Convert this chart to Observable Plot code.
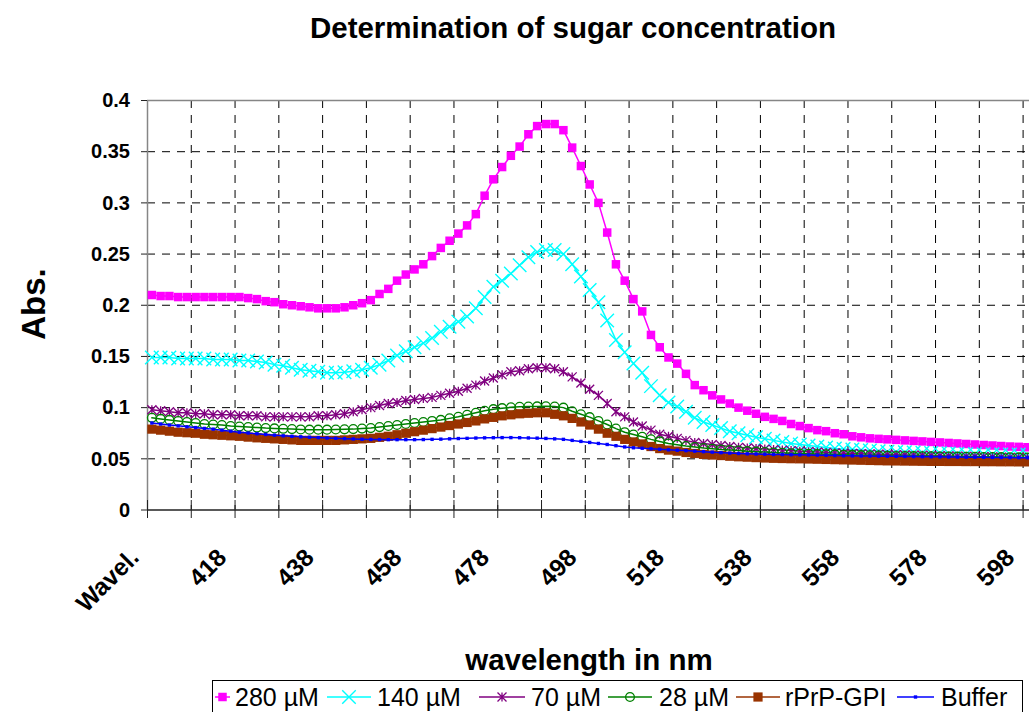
<!DOCTYPE html>
<html><head><meta charset="utf-8">
<script src="https://cdn.jsdelivr.net/npm/d3@7"></script>
<script src="https://cdn.jsdelivr.net/npm/@observablehq/plot@0.6"></script>
<style>
html,body{margin:0;padding:0;background:#fff;}
#chart{position:relative;width:1029px;height:712px;overflow:hidden;}
#chart svg{font-family:"Liberation Sans",Arial,sans-serif;display:block;}
</style></head><body><div id="chart"></div>
<script>
// Categories: index 0 is labelled "Wavel.", then 400..598 nm in 2 nm steps
const wavelengths = d3.range(398, 600, 2);
const xTickIndex = [0, 10, 20, 30, 40, 50, 60, 70, 80, 90, 100];
const xTickLabels = ["Wavel.", "418", "438", "458", "478", "498", "518", "538", "558", "578", "598"];
const yTicks = [0, 0.05, 0.1, 0.15, 0.2, 0.25, 0.3, 0.35, 0.4];
const yTickLabels = ["0", "0.05", "0.1", "0.15", "0.2", "0.25", "0.3", "0.35", "0.4"];

const seriesNames = ["280 µM", "140 µM", "70 µM", "28 µM", "rPrP-GPI", "Buffer"];
const seriesColors = ["#FF00FF", "#00FFFF", "#800080", "#008000", "#993300", "#0000FF"];

const s280 = [
 0.210,0.209,0.209,0.208,0.208,0.208,0.208,0.208,0.208,0.208,
 0.208,0.207,0.206,0.204,0.203,0.201,0.200,0.199,0.198,0.197,
 0.197,0.197,0.198,0.200,0.202,0.205,0.211,0.216,0.224,0.230,
 0.235,0.240,0.248,0.256,0.263,0.270,0.278,0.289,0.307,0.323,
 0.335,0.346,0.355,0.367,0.375,0.377,0.377,0.371,0.354,0.336,
 0.318,0.300,0.271,0.240,0.224,0.206,0.194,0.171,0.159,0.149,
 0.143,0.133,0.122,0.117,0.112,0.108,0.104,0.100,0.097,0.094,
 0.091,0.089,0.087,0.084,0.082,0.080,0.078,0.077,0.075,0.074,
 0.072,0.071,0.070,0.0695,0.069,0.0685,0.068,0.0675,0.067,0.0665,
 0.066,0.0655,0.065,0.0645,0.064,0.0635,0.063,0.0625,0.062,0.0617,
 0.0613];
const s140 = [
 0.149,0.149,0.149,0.148,0.148,0.148,0.148,0.147,0.147,0.147,
 0.146,0.146,0.145,0.144,0.142,0.141,0.139,0.137,0.136,0.135,
 0.134,0.134,0.1345,0.1355,0.137,0.139,0.142,0.146,0.151,0.155,
 0.159,0.163,0.168,0.174,0.179,0.184,0.189,0.197,0.208,0.218,
 0.224,0.231,0.239,0.247,0.252,0.254,0.254,0.250,0.240,0.228,
 0.215,0.203,0.185,0.166,0.154,0.143,0.134,0.121,0.112,0.105,
 0.101,0.096,0.090,0.086,0.083,0.080,0.077,0.075,0.073,0.071,
 0.0695,0.068,0.0665,0.065,0.064,0.063,0.062,0.061,0.060,0.0595,
 0.059,0.0585,0.058,0.0575,0.057,0.0567,0.0565,0.0562,0.056,0.0557,
 0.0555,0.0552,0.055,0.0548,0.0546,0.0545,0.0544,0.0543,0.0542,0.0541,
 0.054];
const s70 = [
 0.098,0.097,0.096,0.095,0.095,0.094,0.094,0.093,0.093,0.093,
 0.092,0.092,0.092,0.091,0.091,0.091,0.091,0.091,0.091,0.092,
 0.092,0.093,0.094,0.096,0.098,0.100,0.102,0.104,0.105,0.107,
 0.108,0.109,0.110,0.112,0.114,0.116,0.119,0.122,0.126,0.129,
 0.132,0.135,0.136,0.138,0.139,0.139,0.138,0.135,0.130,0.124,
 0.118,0.112,0.104,0.096,0.091,0.086,0.082,0.078,0.074,0.072,
 0.070,0.068,0.066,0.065,0.064,0.063,0.062,0.0612,0.0605,0.060,
 0.0595,0.059,0.0585,0.058,0.0575,0.057,0.0566,0.0562,0.0558,0.0555,
 0.0552,0.055,0.0547,0.0545,0.0542,0.054,0.0538,0.0536,0.0534,0.0532,
 0.053,0.0528,0.0526,0.0524,0.0522,0.052,0.0518,0.0516,0.0514,0.0512,
 0.051];
const s28 = [
 0.090,0.089,0.088,0.087,0.086,0.085,0.084,0.0835,0.083,0.082,
 0.0815,0.081,0.0805,0.080,0.0797,0.0793,0.079,0.0787,0.0785,0.0785,
 0.0785,0.0786,0.0788,0.079,0.0795,0.080,0.081,0.082,0.083,0.084,
 0.085,0.086,0.087,0.088,0.0895,0.091,0.093,0.095,0.097,0.0985,
 0.0995,0.1003,0.1008,0.101,0.1012,0.1013,0.101,0.100,0.0965,0.0935,
 0.0907,0.087,0.0835,0.0795,0.076,0.0737,0.0715,0.069,0.067,0.065,
 0.0637,0.0625,0.0615,0.0605,0.0598,0.059,0.0585,0.058,0.0575,0.057,
 0.0566,0.0562,0.0558,0.0555,0.0552,0.055,0.0547,0.0545,0.0543,0.054,
 0.0538,0.0536,0.0534,0.0532,0.053,0.0528,0.0527,0.0526,0.0525,0.0524,
 0.0523,0.0522,0.0521,0.052,0.0519,0.0518,0.0517,0.0516,0.0515,0.0514,
 0.0513];
const sPrP = [
 0.079,0.078,0.077,0.076,0.0755,0.075,0.074,0.0735,0.073,0.0725,
 0.072,0.0712,0.0705,0.070,0.0695,0.069,0.0685,0.068,0.068,0.068,
 0.068,0.068,0.0685,0.069,0.0695,0.070,0.071,0.072,0.0735,0.075,
 0.0765,0.078,0.0795,0.081,0.0825,0.084,0.0855,0.087,0.089,0.0905,
 0.092,0.093,0.094,0.0945,0.095,0.095,0.0935,0.092,0.0895,0.086,
 0.083,0.079,0.075,0.072,0.069,0.0665,0.0645,0.062,0.060,0.0585,
 0.0575,0.0562,0.0552,0.0543,0.0537,0.0532,0.0525,0.052,0.0516,0.0512,
 0.0508,0.0505,0.0503,0.0501,0.050,0.0498,0.0496,0.0494,0.0492,0.049,
 0.0488,0.0486,0.0484,0.0482,0.048,0.0479,0.0478,0.0477,0.0476,0.0475,
 0.0475,0.0474,0.0474,0.0473,0.0473,0.0472,0.0472,0.0471,0.0471,0.047,
 0.047];
const sBuffer = [
 0.085,0.084,0.083,0.0822,0.0813,0.0805,0.0797,0.079,0.078,0.077,
 0.076,0.0752,0.0745,0.0738,0.0731,0.0725,0.072,0.0715,0.0711,0.0707,
 0.0703,0.070,0.0697,0.0694,0.0691,0.0689,0.0688,0.0687,0.0687,0.0687,
 0.0687,0.0688,0.069,0.0692,0.0695,0.0698,0.070,0.0703,0.0705,0.0706,
 0.0707,0.0707,0.0706,0.0704,0.0702,0.0699,0.0695,0.069,0.068,0.067,
 0.066,0.065,0.064,0.0628,0.0616,0.0608,0.0603,0.0598,0.0593,0.0588,
 0.0584,0.058,0.0575,0.057,0.0565,0.056,0.0556,0.0552,0.0549,0.0547,
 0.0545,0.0543,0.0542,0.054,0.0539,0.0538,0.0536,0.0534,0.0532,0.053,
 0.0529,0.0528,0.0527,0.0526,0.0525,0.0524,0.0523,0.0522,0.0521,0.052,
 0.0519,0.0518,0.0517,0.0516,0.0516,0.0515,0.0514,0.0513,0.0512,0.0511,
 0.051];

const seriesValues = [s280, s140, s70, s28, sPrP, sBuffer];

// Excel-like "star" marker: an x with a vertical bar
const symbolStar = {
  draw(ctx, size) {
    const h = Math.sqrt(size / Math.PI);
    ctx.moveTo(-h, -h); ctx.lineTo(h, h);
    ctx.moveTo(-h, h); ctx.lineTo(h, -h);
    ctx.moveTo(0, -h); ctx.lineTo(0, h);
  }
};
const markerSpecs = [
  {symbol: "square", r: 4.8, filled: true, sw: 0},
  {symbol: "times", r: 6.2, filled: false, sw: 1.4},
  {symbol: symbolStar, r: 4.5, filled: false, sw: 1.3},
  {symbol: "circle", r: 4.4, filled: false, sw: 1.3},
  {symbol: "square", r: 5.2, filled: true, sw: 0},
  {symbol: "square", r: 1.9, filled: true, sw: 0}
];

const W = 1029, H = 712;
const mLeft = 147, mTop = 100, yBottom = 509.5;
const catW = 8.756;
const nCat = wavelengths.length;
const boundaries = d3.range(0, 21).map(k => 5 * k - 0.5);

const rows = seriesValues.map((vals, s) => vals.map((v, i) => ({i, wl: wavelengths[i], v, s})));

const seriesMarks = rows.flatMap((data, s) => {
  const m = markerSpecs[s], c = seriesColors[s];
  return [
    Plot.line(data, {x: "i", y: "v", stroke: c, strokeWidth: 1.5}),
    Plot.dot(data, {x: "i", y: "v", symbol: m.symbol, r: m.r,
      fill: m.filled ? c : "none", stroke: m.filled ? "none" : c, strokeWidth: m.sw || 1})
  ];
});

const chart = Plot.plot({
  width: W, height: H,
  marginLeft: mLeft, marginRight: 0, marginTop: mTop, marginBottom: H - yBottom,
  x: {type: "linear", domain: [-0.5, nCat - 0.5], range: [mLeft, mLeft + catW * nCat], axis: null},
  y: {domain: [0, 0.4], axis: null},
  style: {background: "white", overflow: "hidden", fontFamily: "'Liberation Sans', Arial, sans-serif"},
  marks: [
    Plot.gridX({ticks: boundaries.slice(1), stroke: "#000", strokeOpacity: 1, strokeWidth: 1, strokeDasharray: "8,7"}),
    Plot.gridY({ticks: yTicks.slice(1, -1), stroke: "#000", strokeOpacity: 1, strokeWidth: 1, strokeDasharray: "8,7"}),
    Plot.ruleY([0.4], {stroke: "#868686", strokeWidth: 1.5}),
    Plot.ruleX([-0.5], {stroke: "#868686", strokeWidth: 1.5}),
    ...seriesMarks,
    Plot.ruleY([0], {stroke: "#222", strokeWidth: 1.5}),
    Plot.ruleX(boundaries, {y1: 0, y2: 0, insetTop: -9.5, insetBottom: -8.5, stroke: "#222", strokeWidth: 1}),
    Plot.ruleY(yTicks, {x1: -0.5, x2: -0.5, insetLeft: -6, stroke: "#222", strokeWidth: 1})
  ]
});

document.getElementById("chart").appendChild(chart);

const xs = chart.scale("x"), ys = chart.scale("y");
const svg = d3.select(chart);

// y tick labels
yTicks.forEach((t, k) => {
  svg.append("text").attr("x", 130).attr("y", ys.apply(t)).attr("dy", "0.36em")
    .attr("text-anchor", "end").style("font-size", "20px").style("font-weight", "bold")
    .attr("fill", "#000").text(yTickLabels[k]);
});

// rotated category labels
xTickIndex.forEach((idx, k) => {
  const x = xs.apply(idx) - 11, y = ys.apply(0) + 49.5;
  svg.append("text").attr("transform", `translate(${x},${y}) rotate(-45)`)
    .attr("text-anchor", "end").style("font-size", "24.5px").style("font-weight", "bold")
    .attr("fill", "#000").text(xTickLabels[k]);
});

// titles
svg.append("text").attr("x", 573).attr("y", 38).attr("text-anchor", "middle")
  .style("font-size", "29.5px").style("font-weight", "bold").text("Determination of sugar concentration");
svg.append("text").attr("x", 589).attr("y", 670).attr("text-anchor", "middle")
  .style("font-size", "29.5px").style("font-weight", "bold").text("wavelength in nm");
svg.append("text").attr("transform", "translate(45,304) rotate(-90)").attr("text-anchor", "middle")
  .style("font-size", "33px").style("font-weight", "bold").text("Abs.");

// legend
const lg = svg.append("g");
lg.append("rect").attr("x", 212.5).attr("y", 680.5).attr("width", 810).attr("height", 40)
  .attr("fill", "white").attr("stroke", "#000").attr("stroke-width", 1);
const legendItems = [
  {x0: 215, x1: 230, tx: 235},
  {x0: 327, x1: 371, tx: 377},
  {x0: 479, x1: 525, tx: 531},
  {x0: 608, x1: 652, tx: 659},
  {x0: 736, x1: 780, tx: 785},
  {x0: 897, x1: 934, tx: 941}
];
const ly = 697;
legendItems.forEach((it, s) => {
  const c = seriesColors[s], m = markerSpecs[s];
  lg.append("line").attr("x1", it.x0).attr("x2", it.x1).attr("y1", ly).attr("y2", ly)
    .attr("stroke", c).attr("stroke-width", 1.5);
  const sym = typeof m.symbol === "string"
    ? {square: d3.symbolSquare, times: d3.symbolTimes, circle: d3.symbolCircle}[m.symbol] : m.symbol;
  lg.append("path").attr("transform", `translate(${(it.x0 + it.x1) / 2},${ly})`)
    .attr("d", d3.symbol(sym, Math.PI * m.r * m.r)())
    .attr("fill", m.filled ? c : "none").attr("stroke", m.filled ? "none" : c).attr("stroke-width", m.sw || 1);
  lg.append("text").attr("x", it.tx).attr("y", ly + 9).attr("text-anchor", "start")
    .style("font-size", "25px").attr("fill", "#000").text(seriesNames[s]);
});
</script></body></html>
